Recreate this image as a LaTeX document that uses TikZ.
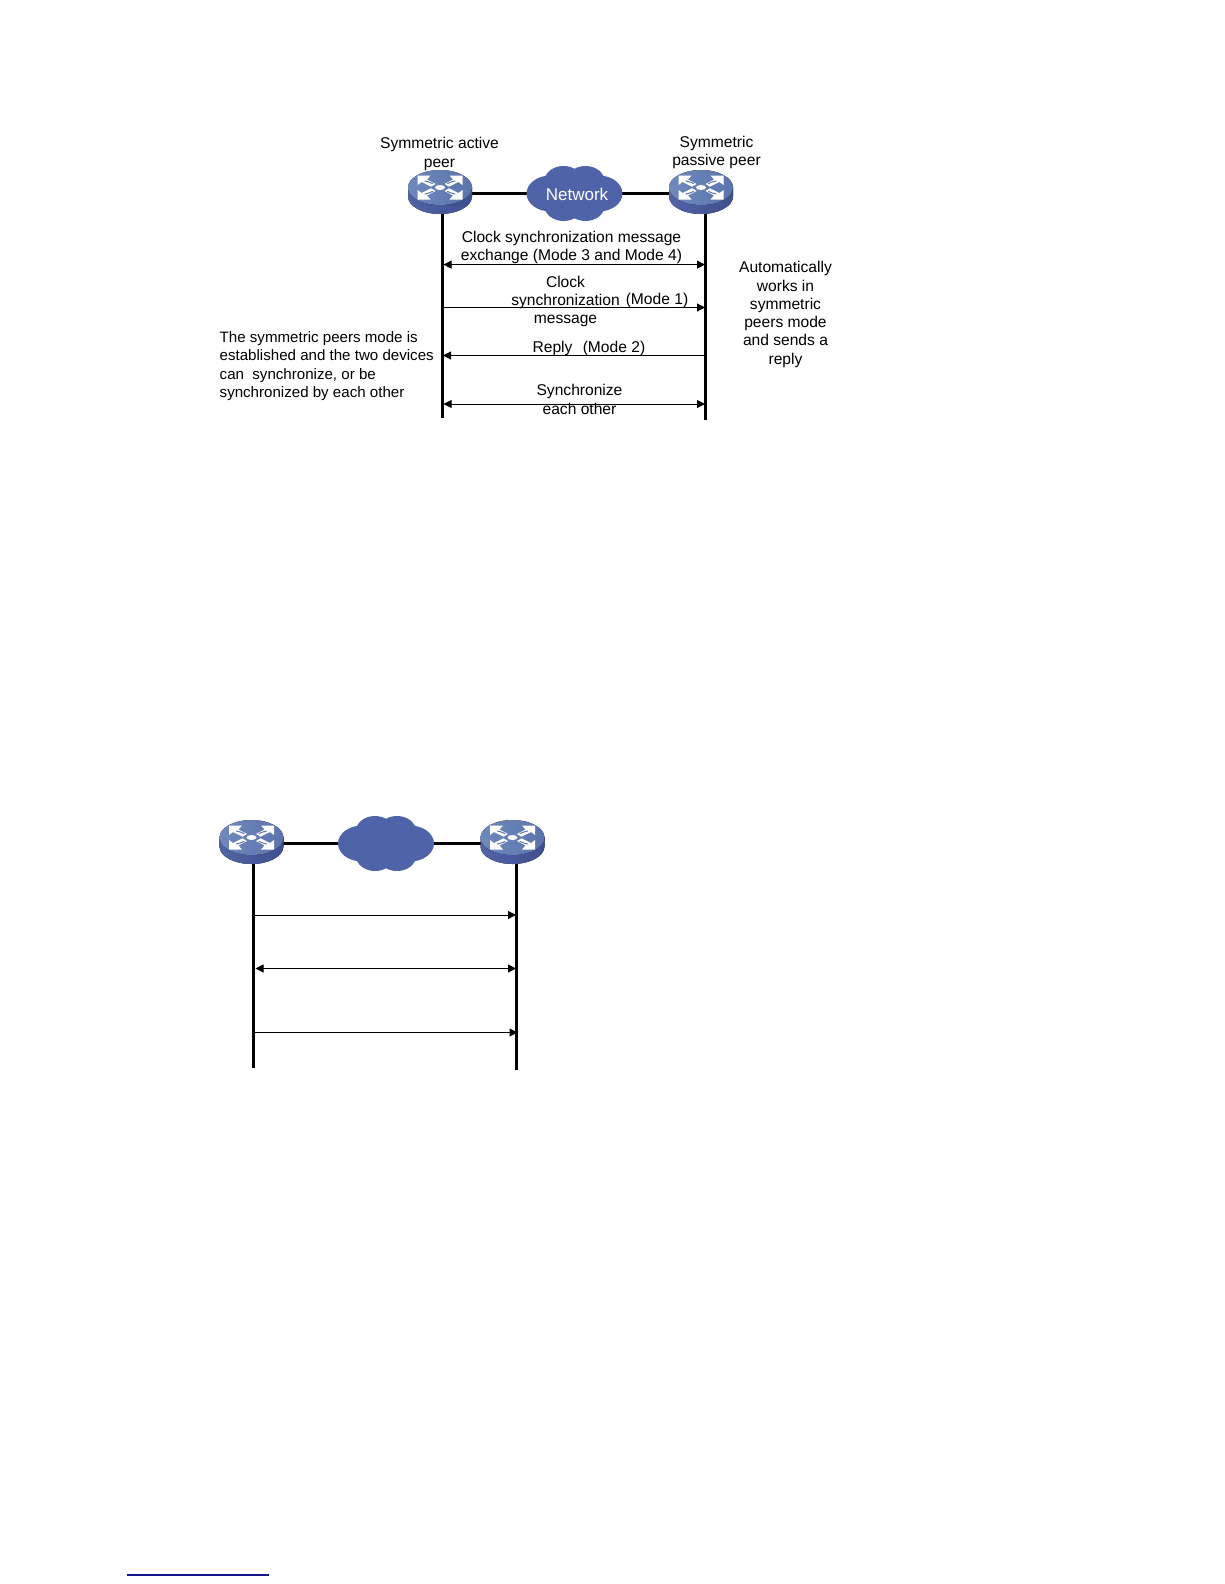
\documentclass[tikz,border=0pt]{standalone}
\usepackage{fontspec}
\setmainfont{Liberation Sans}
\usetikzlibrary{arrows.meta}
\definecolor{routertop}{HTML}{6F89BC}
\definecolor{routertopd}{HTML}{5B74AC}
\definecolor{routerside}{HTML}{5063A4}
\definecolor{routersided}{HTML}{3F4F90}
\definecolor{cloudblue}{HTML}{4F64A8}
\definecolor{footline}{HTML}{14148C}
\tikzset{
  x=1pt,y=-1pt,
  lifeline/.style={line width=3pt,black},
  linkline/.style={line width=3pt,black},
  msg/.style={line width=1pt,black,-{Triangle[length=8pt,width=8pt]}},
  msgboth/.style={line width=1pt,black,{Triangle[length=8pt,width=8pt]}-{Triangle[length=8pt,width=8pt]},shorten <=1.5pt},
  lbl/.style={inner sep=0pt,align=center,font=\fontsize{15.6}{18.3}\selectfont},
  lblleft/.style={lbl,align=left,anchor=north west,font=\fontsize{15.1}{18.2}\selectfont},
  cloudnode/.style={inner sep=0pt,text=white,font=\fontsize{17}{20}\selectfont},
  router/.pic={
    \fill[left color=routerside,right color=routersided] (-32,-5) -- (-32,4.5) arc[x radius=32,y radius=17.5,start angle=180,end angle=0] -- (32,-5) -- cycle;
    \fill[left color=routertop,right color=routertopd] (0,-4.5) ellipse[x radius=32,y radius=17.5];
    \begin{scope}[shift={(0,-4.5)}]
    \foreach \sx/\sy in {1/1,-1/1,1/-1,-1/-1}{
      \begin{scope}[xscale=\sx,yscale=\sy]
        \fill[white] (22.5,-12) -- (22.5,-2.5) -- (18.5,-5.5) -- (9,-0.8) -- (4.5,-3.5) -- (13,-8) -- (9.5,-12) -- cycle;
        \draw[routertopd,line width=1pt,line cap=round] (15,-6.5) .. controls (12,-5) and (10,-6) .. (7.5,-4);
      \end{scope}
    }
    \fill[white] (0,0) ellipse[x radius=5,y radius=2.5];
    \end{scope}
  },
  cloudshape/.pic={
    \fill[cloudblue] (-24,0) ellipse[x radius=24,y radius=18];
    \fill[cloudblue] (24,0) ellipse[x radius=24,y radius=18];
    \fill[cloudblue] (-11,-12.5) ellipse[x radius=19,y radius=15];
    \fill[cloudblue] (11,-12.5) ellipse[x radius=19,y radius=15];
    \fill[cloudblue] (-11,12.5) ellipse[x radius=19,y radius=15];
    \fill[cloudblue] (11,12.5) ellipse[x radius=19,y radius=15];
  }
}
\begin{document}
\begin{tikzpicture}
\useasboundingbox (0,0) rectangle (1224,1584);
\fill[white] (0,0) rectangle (1224,1584);

% ---------- top diagram
\coordinate (rA) at (440,192);
\coordinate (rB) at (701,192);
\coordinate (nA) at (574.5,193.5);
\coordinate (lineA) at (442.5,193.5);
\coordinate (lineB) at (705.5,193.5);
\coordinate (endA) at (442.5,418);
\coordinate (endB) at (705.5,420);
\coordinate (m1a) at (442,264.6);  \coordinate (m1b) at (705,264.6);
\coordinate (m2a) at (442,307.5);  \coordinate (m2b) at (705,307.5);
\coordinate (m3a) at (443,355.5);  \coordinate (m3b) at (705,355.5);
\coordinate (m4a) at (442,404);    \coordinate (m4b) at (705,404);

\draw[linkline] (lineA) -- (lineB);
\draw[lifeline] (lineA) -- (endA);
\draw[lifeline] (lineB) -- (endB);
\draw[msgboth] (m1a) -- (m1b);
\draw[msg] (m2a) -- (m2b);
\draw[msg] (m3b) -- (m3a);
\draw[msgboth] (m4a) -- (m4b);

\pic at (rA) {router};
\pic at (rB) {router};
\pic at (nA) {cloudshape};
\node[cloudnode] (netlabel) at (577,194.5) {Network};

\node[lbl] (tA) at (439.5,154) {Symmetric active\\peer};
\node[lbl] (tB) at (716.5,152.5) {Symmetric\\passive peer};
\node[lbl] (t1) at (571.5,247.5) {Clock synchronization message\\exchange (Mode 3 and Mode 4)};
\node[lbl] (t2) at (565.5,301.5) {Clock\\synchronization\\message};
\node[lbl] (t2b) at (657,300.5) {(Mode 1)};
\node[lbl] (t3) at (552.5,348) {Reply};
\node[lbl] (t3b) at (614,348) {(Mode 2)};
\node[lbl] (t4) at (579.5,399.5) {Synchronize\\each other};
\node[lbl] (tR) at (785.5,314.5) {Automatically\\works in\\symmetric\\peers mode\\and sends a\\reply};
\node[lblleft] (tL) at (219.5,331.5) {The symmetric peers mode is\\established and the two devices\\can\ \ synchronize, or be\\synchronized by each other};

% ---------- bottom diagram
\coordinate (rC) at (251.5,842);
\coordinate (rD) at (512.5,842);
\coordinate (nB) at (386,843.5);
\coordinate (lineC) at (253.5,843.5);
\coordinate (lineD) at (516.5,843.5);
\coordinate (endC) at (253.5,1068);
\coordinate (endD) at (516.5,1070);
\coordinate (m5a) at (254,915);   \coordinate (m5b) at (516,915);
\coordinate (m6a) at (254,968.5); \coordinate (m6b) at (516,968.5);
\coordinate (m7a) at (254,1032.5);\coordinate (m7b) at (517.5,1032.5);

\draw[linkline] (lineC) -- (lineD);
\draw[lifeline] (lineC) -- (endC);
\draw[lifeline] (lineD) -- (endD);
\draw[msg] (m5a) -- (m5b);
\draw[msgboth] (m6a) -- (m6b);
\draw[msg] (m7a) -- (m7b);

\pic at (rC) {router};
\pic at (rD) {router};
\pic at (nB) {cloudshape};

% ---------- footnote rule
\coordinate (fa) at (127,1575);
\coordinate (fb) at (269,1575);
\draw[footline,line width=1.2pt] (fa) -- (fb);
\end{tikzpicture}
\end{document}
